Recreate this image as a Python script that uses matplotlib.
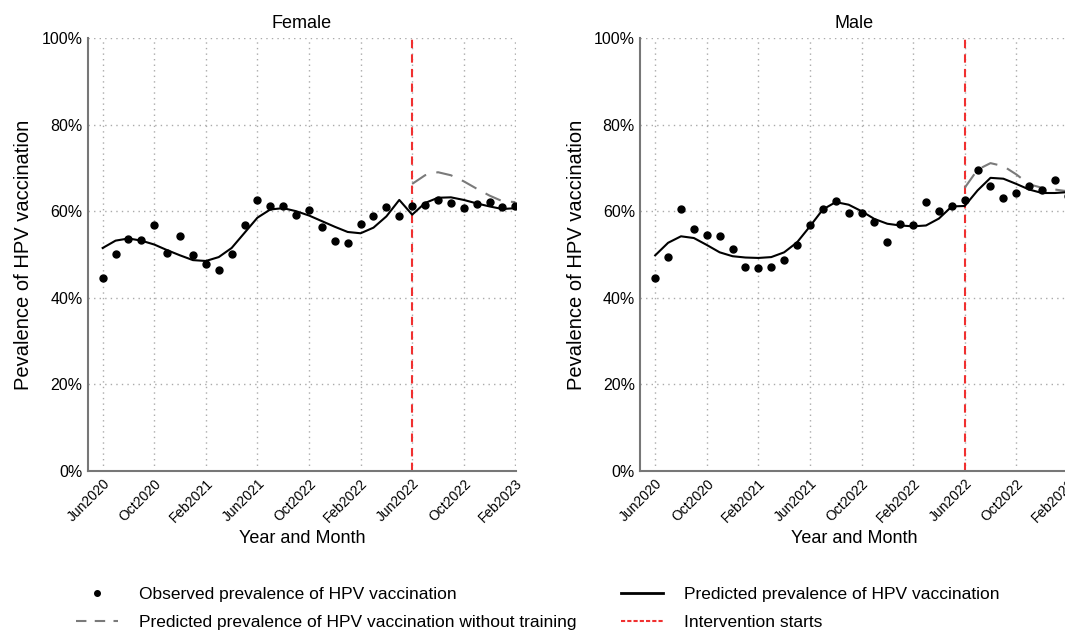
import numpy as np
import matplotlib
matplotlib.use("Agg")
import matplotlib.pyplot as plt
from matplotlib.ticker import FuncFormatter
from matplotlib.lines import Line2D

plt.rcParams['font.family'] = ['Liberation Sans', 'DejaVu Sans']

# months since Jun2020
months = np.arange(33)
tick_pos = [0, 4, 8, 12, 16, 20, 24, 28, 32]
tick_labels = ["Jun2020", "Oct2020", "Feb2021", "Jun2021", "Oct2022",
               "Feb2022", "Jun2022", "Oct2022", "Feb2023"]
intervention = 24

# Female
female_obs = [44.6, 50.2, 53.6, 53.4, 56.9, 50.3, 54.2, 49.9, 47.9, 46.5, 50.2,
              56.9, 62.6, 61.3, 61.2, 59.2, 60.2, 56.3, 53.2, 52.7, 57.0, 58.9,
              60.9, 58.8, 61.2, 61.5, 62.6, 62.0, 60.8, 61.7, 62.1, 60.9, 61.2]
female_pred = [51.5, 53.2, 53.7, 53.2, 52.3, 51.0, 49.8, 48.7, 48.5, 49.4, 51.5,
               55.0, 58.5, 60.4, 60.7, 60.0, 59.0, 57.7, 56.4, 55.2, 54.9, 56.2,
               58.8, 62.6, 59.2, 61.9, 63.1, 63.2, 62.6, 61.8, 61.1, 60.5, 60.7]
female_cf = [66.3, 68.3, 69.0, 68.3, 66.9, 65.2, 63.6, 62.3, 62.1]

# Male
male_obs = [44.5, 49.5, 60.4, 55.9, 54.6, 54.2, 51.3, 47.2, 46.9, 47.1, 48.8,
            52.3, 56.7, 60.4, 62.3, 59.5, 59.5, 57.5, 52.8, 57.1, 56.9, 62.1,
            60.0, 61.1, 62.5, 69.5, 65.8, 63.1, 64.2, 65.8, 65.0, 67.1, 63.4]
male_pred = [49.8, 52.7, 54.2, 53.8, 52.2, 50.5, 49.6, 49.3, 49.2, 49.4, 50.5,
             52.8, 56.5, 60.4, 62.1, 61.5, 60.0, 58.2, 57.1, 56.7, 56.5, 56.7,
             58.3, 61.1, 61.2, 64.8, 67.7, 67.5, 66.3, 65.0, 64.2, 64.2, 64.4]
male_cf = [65.4, 69.6, 71.1, 70.4, 68.5, 66.2, 65.4, 65.0, 64.6]

fig = plt.figure(figsize=(10.65, 6.3), dpi=100)
ax1 = fig.add_axes([0.0826, 0.2524, 0.4019, 0.6873])
ax2 = fig.add_axes([0.6014, 0.2524, 0.4019, 0.6873])

red = '#f03030'
grey = '#7a7a7a'

for ax, title, obs, pred, cf in [(ax1, "Female", female_obs, female_pred, female_cf),
                                 (ax2, "Male", male_obs, male_pred, male_cf)]:
    ax.set_xlim(-1.14, 32.05)
    ax.set_ylim(0, 100)
    ax.grid(True, linestyle=(0, (1, 3)), color='#aaaaaa', linewidth=1)
    ax.set_axisbelow(True)
    ax.axvline(intervention, color=red, linestyle=(0, (4, 3)), linewidth=1.5, zorder=2)
    ax.plot(months[intervention:], cf, color=grey, linestyle=(0, (8, 5)),
            linewidth=1.5, zorder=3)
    ax.plot(months, pred, color='black', linewidth=1.5, zorder=4)
    ax.plot(months, obs, 'o', color='black', markersize=5, zorder=5)
    ax.set_title(title, fontsize=13, pad=7)
    ax.set_xticks(tick_pos)
    ax.set_xticklabels(tick_labels, rotation=45, ha='right', rotation_mode='anchor',
                       fontsize=10)
    ax.set_yticks([0, 20, 40, 60, 80, 100])
    ax.yaxis.set_major_formatter(FuncFormatter(lambda v, p: f"{v:.0f}%"))
    ax.tick_params(axis='y', length=0, labelsize=11.5, pad=4)
    ax.tick_params(axis='x', length=0, pad=4)
    for s in ['top', 'right']:
        ax.spines[s].set_visible(False)
    for s in ['left', 'bottom']:
        ax.spines[s].set_color('#777777')
        ax.spines[s].set_linewidth(1.5)
    ax.set_xlabel("Year and Month", fontsize=13, labelpad=3)
    ax.set_ylabel("Pevalence of HPV vaccination", fontsize=14.5, labelpad=6)

handles = [
    Line2D([], [], marker='o', color='black', linestyle='none', markersize=4),
    Line2D([], [], color=grey, linestyle=(0, (5, 4)), linewidth=1.5),
    Line2D([], [], color='black', linewidth=2),
    Line2D([], [], color=red, linestyle=(0, (2, 1)), linewidth=1.5),
]
labels = ["Observed prevalence of HPV vaccination",
          "Predicted prevalence of HPV vaccination without training",
          "Predicted prevalence of HPV vaccination",
          "Intervention starts"]
fig.legend(handles, labels, loc='center', bbox_to_anchor=(0.505, 0.034), ncol=2,
           frameon=False, fontsize=12.5, handlelength=2.4, columnspacing=2.6,
           labelspacing=0.75, handletextpad=1.2)

fig.savefig("out.png", dpi=100)
